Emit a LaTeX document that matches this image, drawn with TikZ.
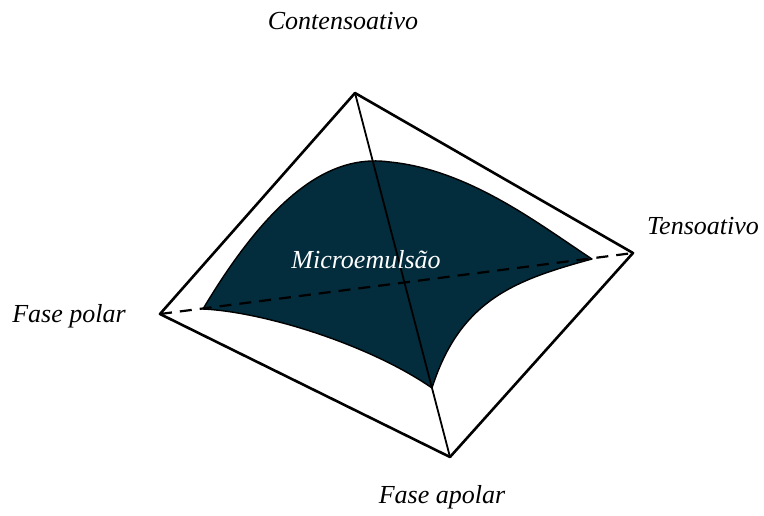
\documentclass[tikz,border=0pt]{standalone}
\usepackage{fontspec}
\setmainfont{Liberation Serif}
\definecolor{microfill}{RGB}{3,44,60}
\begin{document}
\begin{tikzpicture}[x=1pt,y=-1pt,
  edge/.style={line width=2.6pt,line cap=round,line join=round},
  diag/.style={line width=1.8pt,line cap=round},
  dashdiag/.style={line width=2.2pt,dash pattern=on 12pt off 8pt},
  region/.style={fill=microfill,draw=black,line width=1.4pt,line join=round},
  lab/.style={font=\itshape\fontsize{26}{30}\selectfont,anchor=base,inner sep=0pt}]
\useasboundingbox (0,0) rectangle (764,515);
\coordinate (T) at (355,93);
\coordinate (R) at (633,253);
\coordinate (B) at (450,457);
\coordinate (L) at (160,314);
\coordinate (sL) at (203,309);
\coordinate (sP) at (390,162);
\coordinate (sR) at (592,259);
\coordinate (sB) at (432,388);
% microemulsion region
\path[region] (sL) .. controls (280,180) and (340,155) .. (sP)
  .. controls (470,170) and (540,225) .. (sR)
  .. controls (515,280) and (460,300) .. (sB)
  .. controls (370,345) and (265,312) .. cycle;
% outer edges
\draw[edge] (L) -- (T) -- (R) -- (B) -- cycle;
% diagonals
\draw[diag] (T) -- (B);
\draw[dashdiag] (L) -- (R);
% labels
\node[lab] (ct) at (343,29) {Contensoativo};
\node[lab] (te) at (703,234) {Tensoativo};
\node[lab] (fp) at (69,322) {Fase polar};
\node[lab] (fa) at (442,503) {Fase apolar};
\node[lab,text=white] (me) at (366,268) {Microemulsão};
\end{tikzpicture}
\end{document}
